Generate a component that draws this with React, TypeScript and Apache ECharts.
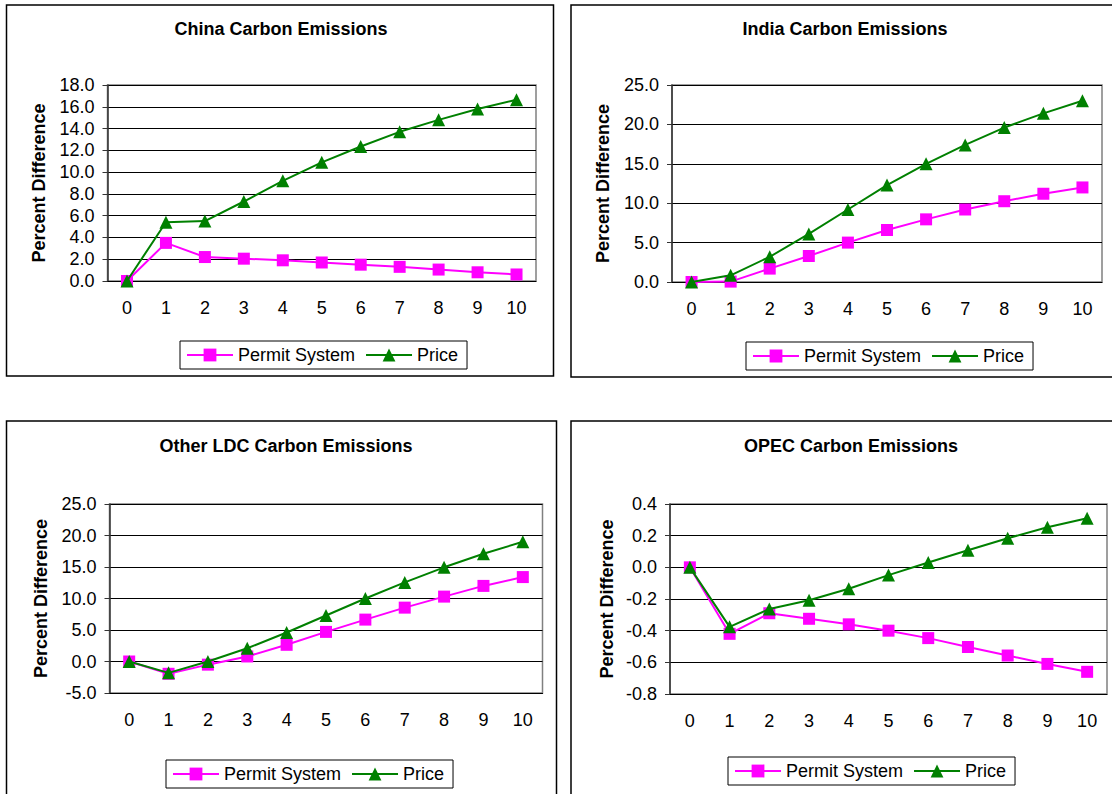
import React, { useEffect, useRef } from 'react';
import * as echarts from 'echarts';

const years = ['0', '1', '2', '3', '4', '5', '6', '7', '8', '9', '10'];
const seriesNames = ['Permit System', 'Price'];
const titles = ['China Carbon Emissions', 'India Carbon Emissions', 'Other LDC Carbon Emissions', 'OPEC Carbon Emissions'];
const yAxisName = 'Percent Difference';

const chinaPermit = [0, 3.5, 2.2, 2.05, 1.9, 1.7, 1.5, 1.3, 1.05, 0.8, 0.6];
const chinaPrice = [0, 5.4, 5.5, 7.3, 9.2, 10.9, 12.35, 13.7, 14.8, 15.8, 16.65];
const indiaPermit = [0, 0.05, 1.7, 3.3, 5.0, 6.6, 7.95, 9.2, 10.25, 11.2, 12.0];
const indiaPrice = [0, 0.85, 3.2, 6.1, 9.2, 12.3, 15.0, 17.4, 19.6, 21.4, 23.0];
const ldcPermit = [0, -1.95, -0.5, 0.8, 2.65, 4.7, 6.65, 8.55, 10.3, 12.0, 13.4];
const ldcPrice = [0, -1.8, 0.0, 2.1, 4.6, 7.3, 10.0, 12.55, 14.95, 17.1, 19.0];
const opecPermit = [0, -0.42, -0.29, -0.325, -0.36, -0.4, -0.447, -0.503, -0.557, -0.61, -0.66];
const opecPrice = [0, -0.376, -0.263, -0.208, -0.135, -0.049, 0.031, 0.108, 0.184, 0.253, 0.31];

const yMins = [0, 0, -5, -0.8];
const yMaxs = [18, 25, 25, 0.4];
const yIntervals = [2, 5, 5, 0.2];

const FONT = '"Liberation Sans", Arial, Helvetica, sans-serif';

// layout of the four panels
const panels = [
  { box: [6.5, 5, 547, 371], grid: [107.5, 85, 428.5, 196], title: [281, 20], legend: [180, 341], nameGap: 60 },
  { box: [571, 5, 600, 372], grid: [672, 85, 430, 197], title: [845, 20], legend: [746, 342], nameGap: 60 },
  { box: [6.5, 421, 550, 420], grid: [109.5, 504, 433, 189], title: [286, 437], legend: [166, 760], nameGap: 60 },
  { box: [571, 421, 600, 420], grid: [670, 504, 437, 190], title: [851, 437], legend: [728, 757], nameGap: 54 },
];

const dataSets = [
  [chinaPermit, chinaPrice],
  [indiaPermit, indiaPrice],
  [ldcPermit, ldcPrice],
  [opecPermit, opecPrice],
];

export default function App() {
  const ref = useRef<HTMLDivElement>(null);

  useEffect(() => {
    if (!ref.current) return;
    const chart = echarts.init(ref.current, undefined, { renderer: 'svg' });

    const option: any = {
      animation: false,
      backgroundColor: '#ffffff',
      textStyle: { fontFamily: FONT },
      title: panels.map((p, i) => ({
        text: titles[i],
        left: p.title[0],
        top: p.title[1],
        textAlign: 'center',
        padding: 0,
        textStyle: { fontFamily: FONT, fontSize: 18, fontWeight: 'bold', color: '#000' },
      })),
      legend: panels.map((p) => ({
        data: seriesNames,
        left: p.legend[0],
        top: p.legend[1],
        orient: 'horizontal',
        padding: [5, 9, 5, 6],
        itemWidth: 46,
        itemHeight: 16,
        itemGap: 10,
        borderColor: '#000',
        borderWidth: 1,
        borderRadius: 0,
        backgroundColor: '#fff',
        textStyle: { fontFamily: FONT, fontSize: 18, color: '#000', padding: [0, 0, 0, 0] },
      })),
      grid: panels.map((p) => ({
        left: p.grid[0],
        top: p.grid[1],
        width: p.grid[2],
        height: p.grid[3],
        show: true,
        borderColor: '#808080',
        borderWidth: 1.5,
        backgroundColor: 'transparent',
      })),
      xAxis: panels.map((p, i) => ({
        type: 'category',
        gridIndex: i,
        data: years,
        boundaryGap: true,
        axisLine: { onZero: false, lineStyle: { color: '#000', width: 1 } },
        axisTick: { show: false },
        axisLabel: { fontFamily: FONT, fontSize: 18, color: '#000', margin: 18 },
        splitLine: { show: false },
      })),
      yAxis: panels.map((p, i) => ({
        type: 'value',
        gridIndex: i,
        min: yMins[i],
        max: yMaxs[i],
        interval: yIntervals[i],
        name: yAxisName,
        nameLocation: 'middle',
        nameRotate: 90,
        nameGap: p.nameGap,
        nameTextStyle: { fontFamily: FONT, fontSize: 18, fontWeight: 'bold', color: '#000' },
        axisLine: { show: true, lineStyle: { color: '#333', width: 1.5 } },
        axisTick: { show: true, length: 5, lineStyle: { color: '#333' } },
        axisLabel: {
          fontFamily: FONT,
          fontSize: 18,
          color: '#000',
          margin: 13,
          formatter: (v: number) => v.toFixed(1),
        },
        splitLine: { show: true, lineStyle: { color: '#000', width: 1 } },
      })),
      series: dataSets.flatMap((ds, i) => [
        {
          name: seriesNames[0],
          type: 'line',
          xAxisIndex: i,
          yAxisIndex: i,
          data: ds[0],
          symbol: 'rect',
          symbolSize: 12,
          showAllSymbol: true,
          color: '#FF00FF',
          lineStyle: { color: '#FF00FF', width: 2 },
          itemStyle: { color: '#FF00FF' },
          z: 3,
        },
        {
          name: seriesNames[1],
          type: 'line',
          xAxisIndex: i,
          yAxisIndex: i,
          data: ds[1],
          symbol: 'triangle',
          symbolSize: 13,
          showAllSymbol: true,
          color: '#008000',
          lineStyle: { color: '#008000', width: 2 },
          itemStyle: { color: '#008000' },
          z: 4,
        },
      ]),
      graphic: panels.map((p) => ({
        type: 'rect',
        shape: { x: p.box[0], y: p.box[1], width: p.box[2], height: p.box[3] },
        style: { fill: 'none', stroke: '#000', lineWidth: 1.5 },
        silent: true,
        z: -1,
      })),
    };

    chart.setOption(option);
    return () => chart.dispose();
  }, []);

  return (
    <div
      ref={ref}
      style={{ position: 'absolute', left: 0, top: 0, width: 1112, height: 794 }}
    />
  );
}
